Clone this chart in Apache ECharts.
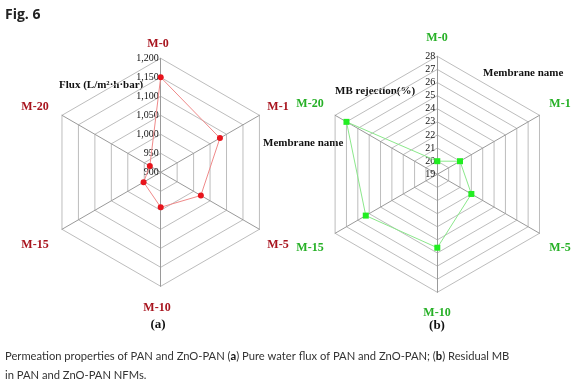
<!DOCTYPE html>
<html><head><meta charset="utf-8">
<script src="https://cdn.jsdelivr.net/npm/echarts@6/dist/echarts.min.js"></script>
<style>html,body{margin:0;padding:0;background:#fff}#c{width:588px;height:388px}</style>
</head><body><div id="c"></div>
<script>
// Data
const categories = ['M-0', 'M-1', 'M-5', 'M-10', 'M-15', 'M-20'];
const fluxValues = [1150, 1080, 1022, 992, 952, 933];          // L/m2·h·bar
const mbRejection = [20.0, 21.0, 22.0, 24.6, 25.3, 27.0];      // %
const fluxTicks = [900, 950, 1000, 1050, 1100, 1150, 1200];
const rejTicks = [19, 20, 21, 22, 23, 24, 25, 26, 27, 28];

// ECharts radar goes counter-clockwise; original goes clockwise from top
const order = [0, 5, 4, 3, 2, 1];

const serif = 'Liberation Serif';
const fmtComma = v => String(v).replace(/\B(?=(\d{3})+(?!\d))/g, ',');

function indicators(min, max, color) {
  return order.map((i, k) => ({
    name: categories[i], min: min, max: max, color: color,
    axisLabel: k === 0 ? {show: true, formatter: fmtComma, margin: 2, color: '#111', fontFamily: serif, fontSize: 10} : {show: false}
  }));
}

const common = {
  startAngle: 90, shape: 'polygon',
  axisName: {show: false},
  splitArea: {show: false},
  splitLine: {lineStyle: {color: '#bdbdbd', width: 1}},
  axisLine: {lineStyle: {color: '#9a9a9a', width: 1}},
  axisTick: {show: false},
  axisLabel: {show: false}
};

const chart = echarts.init(document.getElementById('c'), null, {renderer: 'canvas'});

const redName = '#a8141e', greenName = '#26b026';
const nameStyle = (color) => ({fill: color, font: 'bold 12px "Liberation Serif"', textAlign: 'center', textVerticalAlign: 'middle'});
const namePosA = [[158, 43.5], [278, 107], [278, 245], [157, 308], [35, 245], [35, 107]];
const namePosB = [[437, 37.5], [560, 103.5], [560, 248], [437, 313], [310, 248], [310, 103.5]];

const graphics = [
  {type: 'text', left: 5, top: 8, style: {text: 'Fig. 6', fill: '#222', font: 'bold 14px "Open Sans"'}},
  {type: 'text', x: 59, y: 85, style: {text: 'Flux (L/m\u00B2\u00B7h\u00B7bar)', fill: '#111', font: 'bold 11px "Liberation Serif"', textVerticalAlign: 'middle'}},
  {type: 'text', x: 263, y: 143, style: {text: 'Membrane name', fill: '#111', font: 'bold 11px "Liberation Serif"', textVerticalAlign: 'middle'}},
  {type: 'text', x: 483, y: 73, style: {text: 'Membrane name', fill: '#111', font: 'bold 11px "Liberation Serif"', textVerticalAlign: 'middle'}},
  {type: 'text', x: 335, y: 91, style: {text: 'MB rejection(%)', fill: '#111', font: 'bold 11px "Liberation Serif"', textVerticalAlign: 'middle'}},
  {type: 'text', x: 158, y: 325, style: {text: '(a)', fill: '#111', font: 'bold 13px "Liberation Serif"', textAlign: 'center', textVerticalAlign: 'middle'}},
  {type: 'text', x: 437, y: 326, style: {text: '(b)', fill: '#111', font: 'bold 13px "Liberation Serif"', textAlign: 'center', textVerticalAlign: 'middle'}},
  {type: 'text', x: 5, y: 346.5, style: {
    text: '{n|Permeation properties of PAN and ZnO-PAN (}{b|a}{n|) Pure water flux of PAN and ZnO-PAN; (}{b|b}{n|) Residual MB}\n{n|in PAN and ZnO-PAN NFMs.}',
    textVerticalAlign: 'top', lineHeight: 19,
    rich: {
      n: {fill: '#333', fontFamily: 'Lato', fontSize: 11.2, lineHeight: 19},
      b: {fill: '#111', fontFamily: 'Lato', fontSize: 11.2, fontWeight: 'bold', lineHeight: 19}
    }
  }}
];
categories.forEach((c, i) => {
  graphics.push({type: 'text', x: namePosA[i][0], y: namePosA[i][1], style: Object.assign({text: c}, nameStyle(redName))});
  graphics.push({type: 'text', x: namePosB[i][0], y: namePosB[i][1], style: Object.assign({text: c}, nameStyle(greenName))});
});

chart.setOption({
  animation: false,
  backgroundColor: '#fff',
  radar: [
    Object.assign({}, common, {center: [160.7, 172.3], radius: 114, splitNumber: fluxTicks.length - 1,
      indicator: indicators(fluxTicks[0], fluxTicks[fluxTicks.length - 1], redName)}),
    Object.assign({}, common, {center: [437.3, 174.3], radius: 118, splitNumber: rejTicks.length - 1,
      indicator: indicators(rejTicks[0], rejTicks[rejTicks.length - 1], greenName)})
  ],
  series: [
    {type: 'radar', radarIndex: 0, symbol: 'circle', symbolSize: 6,
      itemStyle: {color: '#e8141c'}, lineStyle: {color: '#f08a8a', width: 1},
      data: [{value: order.map(i => fluxValues[i]), name: 'Flux'}]},
    {type: 'radar', radarIndex: 1, symbol: 'rect', symbolSize: 6,
      itemStyle: {color: '#22ee22'}, lineStyle: {color: '#8be88b', width: 1},
      data: [{value: order.map(i => mbRejection[i]), name: 'MB rejection'}]}
  ],
  graphic: graphics
});
</script></body></html>
